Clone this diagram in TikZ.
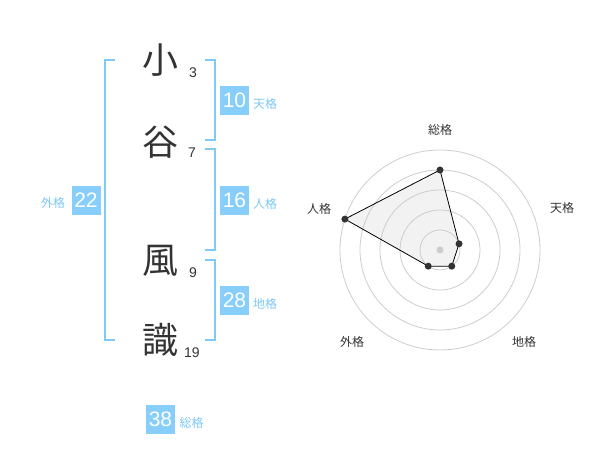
\documentclass[tikz,border=0pt]{standalone}
\usepackage{fontspec}
\setmainfont{Liberation Sans}
\newfontfamily\cjk{Noto Sans CJK JP}
\usepackage{tikz}
\usetikzlibrary{calc}
\definecolor{kaku_blue}{RGB}{135,206,250}
\definecolor{line_blue}{RGB}{128,202,248}
\definecolor{label_blue}{RGB}{125,200,245}
\definecolor{ink_gray}{RGB}{51,51,51}
\definecolor{ring_gray}{RGB}{205,205,205}

\begin{document}
\begin{tikzpicture}[x=1pt,y=1pt]
    \tikzstyle{kanji}=[text=ink_gray, inner sep=0pt, font=\cjk\fontsize{36}{36}\selectfont]
    \tikzstyle{stroke}=[text=ink_gray, inner sep=0pt, font=\fontsize{14}{14}\selectfont]
    \tikzstyle{kakubox}=[fill=kaku_blue, text=white, minimum size=29pt, inner sep=0pt, font=\fontsize{21}{21}\selectfont]
    \tikzstyle{kakuname}=[text=label_blue, inner sep=0pt, font=\cjk\fontsize{12}{12}\selectfont]
    \tikzstyle{bracket}=[draw=line_blue, line width=2pt]
    \tikzstyle{axisname}=[text=ink_gray, inner sep=0pt, font=\cjk\fontsize{12}{12}\selectfont]
    \tikzstyle{dot}=[fill=ink_gray, circle, minimum size=7pt, inner sep=0pt]

    \useasboundingbox (0,0) rectangle (600,470);

    % name
    \node[kanji] (k1) at (160,410) {小};
    \node[kanji] (k2) at (160,328) {谷};
    \node[kanji] (k3) at (160,209) {風};
    \node[kanji] (k4) at (160,130) {識};
    \node[stroke] (s1) at (193,397) {3};
    \node[stroke] (s2) at (192,317) {7};
    \node[stroke] (s3) at (193,197) {9};
    \node[stroke] (s4) at (192,117) {19};

    % brackets
    \draw[bracket] (115,410) -- (105,410) -- (105,130) -- (115,130);
    \draw[bracket] (205,410) -- (215,410) -- (215,330) -- (205,330);
    \draw[bracket] (205,321) -- (215,321) -- (215,220) -- (205,220);
    \draw[bracket] (205,210) -- (215,210) -- (215,130) -- (205,130);

    % kaku values
    \node[kakubox] (ten)   at (234.5,369.5) {10};
    \node[kakubox] (jin)   at (234.5,269.5) {16};
    \node[kakubox] (chi)   at (234.5,169.5) {28};
    \node[kakubox] (gai)   at (86,269.5)    {22};
    \node[kakubox] (sou)   at (160.5,50.5)  {38};
    \node[kakuname, anchor=west] (tenl) at (253,366) {天格};
    \node[kakuname, anchor=west] (jinl) at (253,266) {人格};
    \node[kakuname, anchor=west] (chil) at (253,166) {地格};
    \node[kakuname] (gail) at (53,267)   {外格};
    \node[kakuname] (soul) at (191.5,47) {総格};

    % radar
    \coordinate (c) at (440,220);
    \foreach \r in {20,40,60,80,100}
      \draw[ring_gray, line width=0.8pt] (c) circle (\r);
    \fill[ring_gray] (c) circle (3.5);
    \coordinate (p1) at ($(c)+(90:80)$);
    \coordinate (p2) at ($(c)+(18:20)$);
    \coordinate (p3) at ($(c)+(-54:20)$);
    \coordinate (p4) at ($(c)+(-126:20)$);
    \coordinate (p5) at ($(c)+(162:100)$);
    \draw[black, line width=0.8pt, fill=gray!40, fill opacity=0.25]
      (p1) -- (p2) -- (p3) -- (p4) -- (p5) -- cycle;
    \foreach \p in {p1,p2,p3,p4,p5}
      \node[dot] at (\p) {};

    \node[axisname] (a1) at (440,340) {総格};
    \node[axisname] (a2) at (562,262) {天格};
    \node[axisname] (a3) at (524,128) {地格};
    \node[axisname] (a4) at (352,128) {外格};
    \node[axisname] (a5) at (319,261) {人格};
  \end{tikzpicture}
\end{document}
